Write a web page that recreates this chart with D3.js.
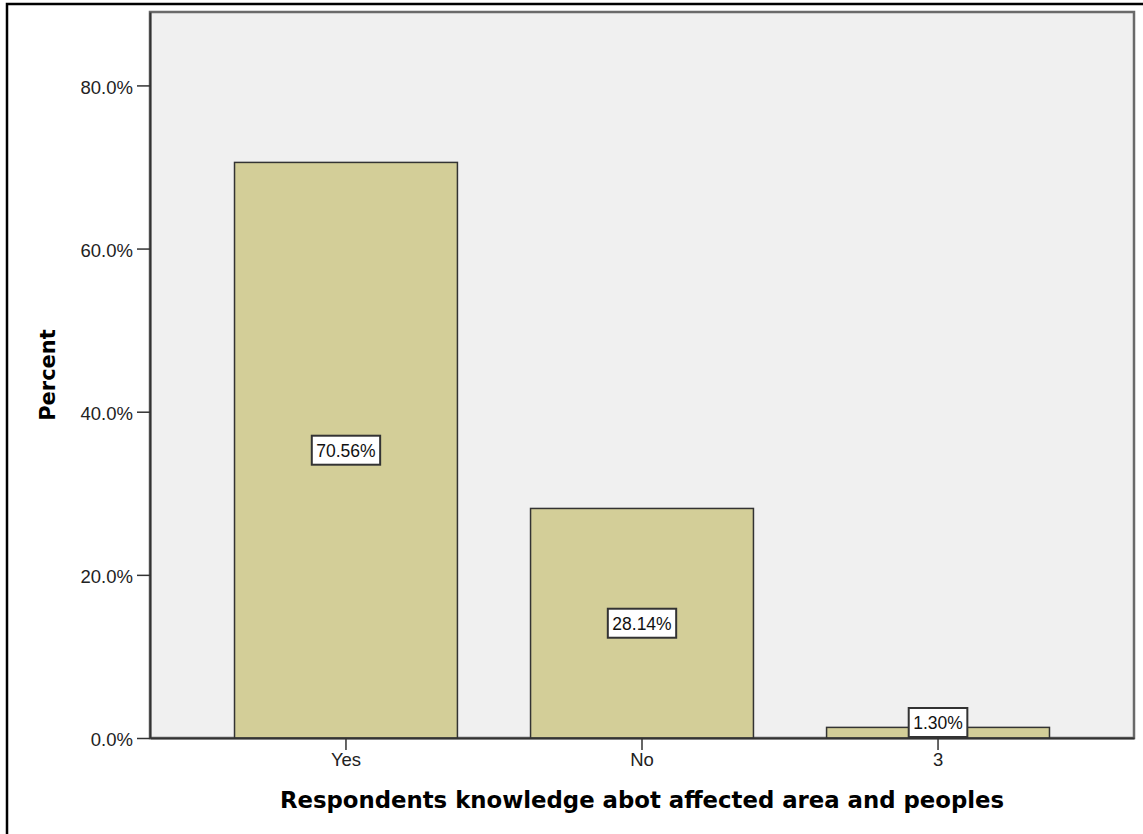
<!DOCTYPE html>
<html>
<head>
<meta charset="utf-8">
<script src="https://cdn.jsdelivr.net/npm/d3@7"></script>
<style>
  html, body { margin: 0; padding: 0; background: #ffffff; }
  svg { display: block; }
</style>
</head>
<body>
<svg id="chart" width="1143" height="834"></svg>
<script>
// Response categories and their share of respondents (percent)
const categories = ["Yes", "No", "3"];
const percents = [70.56, 28.14, 1.30];
const yTicks = [0, 20, 40, 60, 80];
const xTitle = "Respondents knowledge abot affected area and peoples";
const yTitle = "Percent";

const svg = d3.select("#chart");
const W = 1143, H = 834;
const plot = { left: 150, top: 12, right: 1134, bottom: 738 };

// outer frame of the graphic
svg.append("rect")
  .attr("x", 7).attr("y", 4)
  .attr("width", W + 10).attr("height", H + 10)
  .attr("fill", "#ffffff").attr("stroke", "#000").attr("stroke-width", 2.5);

const x = d3.scaleBand()
  .domain(categories)
  .range([plot.left, plot.right])
  .paddingInner(0.247)
  .paddingOuter(0.2855);

const y = d3.scaleLinear()
  .domain([0, 89])
  .range([plot.bottom, plot.top]);

// plot background with its frame
svg.append("rect")
  .attr("x", plot.left).attr("y", plot.top)
  .attr("width", plot.right - plot.left).attr("height", plot.bottom - plot.top)
  .attr("fill", "#f0f0f0")
  .attr("stroke", "#6a6a6a").attr("stroke-width", 2.5);

// bars
svg.append("g").selectAll("rect")
  .data(categories)
  .join("rect")
  .attr("x", d => x(d))
  .attr("y", (d, i) => y(percents[i]))
  .attr("width", x.bandwidth())
  .attr("height", (d, i) => y(0) - y(percents[i]))
  .attr("fill", "#d3ce98")
  .attr("stroke", "#333")
  .attr("stroke-width", 1.5);

// y axis
const yAxis = svg.append("g")
  .attr("transform", `translate(${plot.left},0)`)
  .call(d3.axisLeft(y).tickValues(yTicks).tickFormat(d => d.toFixed(1) + "%")
    .tickSize(13).tickSizeOuter(0).tickPadding(4));
yAxis.select(".domain").attr("stroke", "#333").attr("stroke-width", 2);
yAxis.selectAll(".tick line").attr("stroke", "#333").attr("stroke-width", 1.5);
yAxis.selectAll(".tick text")
  .attr("font-family", "'Liberation Sans', Arial, sans-serif")
  .attr("font-size", 18.5).attr("fill", "#222").attr("dy", "0.42em");

// x axis
const xAxis = svg.append("g")
  .attr("transform", `translate(0,${plot.bottom})`)
  .call(d3.axisBottom(x).tickSize(12).tickPadding(3).tickSizeOuter(0));
xAxis.select(".domain").attr("stroke", "#333").attr("stroke-width", 2);
xAxis.selectAll(".tick line").attr("stroke", "#333").attr("stroke-width", 1.5);
xAxis.selectAll(".tick text")
  .attr("font-family", "'Liberation Sans', Arial, sans-serif")
  .attr("font-size", 18.5).attr("fill", "#222");

// value labels in boxes, centred in each bar and kept inside the plot
const labels = svg.append("g").selectAll("g")
  .data(categories)
  .join("g");
labels.each(function (d, i) {
  const g = d3.select(this);
  const t = g.append("text")
    .attr("font-family", "'Liberation Sans', Arial, sans-serif")
    .attr("font-size", 17.5).attr("fill", "#111")
    .attr("text-anchor", "middle")
    .text(percents[i].toFixed(2) + "%");
  const bw = t.node().getComputedTextLength() + 9;
  const bh = 29;
  const cx = x(d) + x.bandwidth() / 2;
  let cy = y(percents[i] / 2);
  cy = Math.min(cy, plot.bottom - 1 - bh / 2);
  g.insert("rect", "text")
    .attr("x", cx - bw / 2).attr("y", cy - bh / 2)
    .attr("width", bw).attr("height", bh)
    .attr("fill", "#fff").attr("stroke", "#333").attr("stroke-width", 2);
  t.attr("x", cx).attr("y", cy).attr("dy", "0.36em");
});

// axis titles
svg.append("text")
  .attr("x", (plot.left + plot.right) / 2).attr("y", 808)
  .attr("text-anchor", "middle")
  .attr("font-family", "'DejaVu Sans', sans-serif")
  .attr("font-weight", "bold").attr("font-size", 22.8).attr("fill", "#000")
  .text(xTitle);

svg.append("text")
  .attr("transform", `translate(55,375) rotate(-90)`)
  .attr("text-anchor", "middle")
  .attr("font-family", "'DejaVu Sans', sans-serif")
  .attr("font-weight", "bold").attr("font-size", 21).attr("fill", "#000")
  .text(yTitle);
</script>
</body>
</html>
